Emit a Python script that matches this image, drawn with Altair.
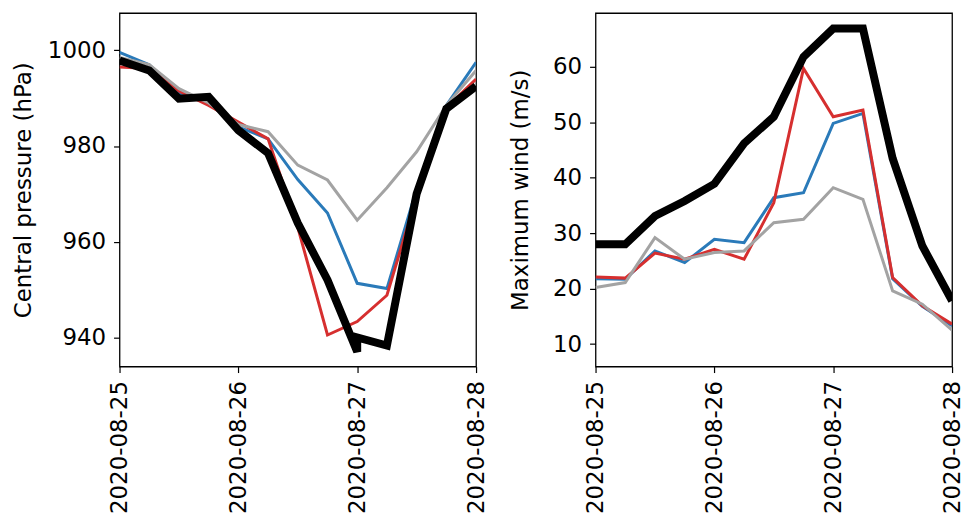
import altair as alt
import pandas as pd

# 6-hourly times, 2020-08-25 00 UTC .. 2020-08-28 00 UTC
TIMES = [
    "2020-08-25T00:00:00", "2020-08-25T06:00:00", "2020-08-25T12:00:00", "2020-08-25T18:00:00",
    "2020-08-26T00:00:00", "2020-08-26T06:00:00", "2020-08-26T12:00:00", "2020-08-26T18:00:00",
    "2020-08-27T00:00:00", "2020-08-27T06:00:00", "2020-08-27T12:00:00", "2020-08-27T18:00:00",
    "2020-08-28T00:00:00",
]
# the black (best-track) series has two entries at 2020-08-27 00
BLACK_TIMES = TIMES[:9] + [TIMES[8]] + TIMES[9:]

PRES_BLUE = [999.6, 997.0, 991.0, 989.0, 984.0, 981.5, 973.0, 966.0, 951.3, 950.2, 971.0, 988.5, 997.5]
PRES_RED = [996.5, 996.2, 991.5, 988.5, 985.0, 981.5, 963.0, 940.5, 943.3, 948.8, 969.5, 988.0, 994.0]
PRES_GRAY = [998.5, 997.0, 992.0, 989.0, 984.5, 983.0, 976.0, 972.9, 964.5, 971.3, 978.8, 988.5, 995.8]
PRES_BLACK = [997.9, 995.8, 989.9, 990.3, 983.3, 978.5, 963.9, 952.0, 937.0, 940.0, 938.3, 970.0, 987.8, 992.5]

WIND_BLUE = [21.8, 21.7, 26.8, 24.7, 28.9, 28.3, 36.4, 37.3, 49.8, 51.6, 21.8, 16.8, 13.3]
WIND_RED = [22.1, 21.9, 26.4, 25.3, 27.1, 25.3, 35.5, 59.7, 51.0, 52.2, 22.0, 16.9, 13.6]
WIND_GRAY = [20.2, 21.1, 29.2, 25.3, 26.5, 26.8, 31.9, 32.5, 38.2, 36.1, 19.6, 17.2, 12.5]
WIND_BLACK = [28.0, 28.0, 33.1, 35.8, 38.9, 46.2, 51.0, 61.8, 66.9, 66.9, 66.9, 43.5, 27.7, 17.8]

DATE_TICKS = [25, 26, 27, 28]
PRES_TICKS = [940, 960, 980, 1000]
WIND_TICKS = [10, 20, 30, 40, 50, 60]

COLORS = {"blue": "#2a7ab9", "red": "#d62f2f", "gray": "#a3a3a3", "black": "#000000"}
WIDTHS = {"blue": 3, "red": 3, "gray": 3, "black": 8}

FS = 23


def frame(times, values):
    return pd.DataFrame({"time": times, "value": values, "idx": list(range(len(values)))})


x_scale = alt.Scale(
    domain=[alt.DateTime(year=2020, month=8, date=25), alt.DateTime(year=2020, month=8, date=28)],
    nice=False,
)
x_axis = alt.Axis(
    title=None,
    values=[alt.DateTime(year=2020, month=8, date=d) for d in DATE_TICKS],
    format="%Y-%m-%d",
    labelAngle=270,
    labelPadding=8,
    labelFlush=False,
    labelOverlap=False,
)


def panel(series, domain, ticks, title, label_pad, title_pad):
    y_scale = alt.Scale(domain=domain, nice=False, zero=False)
    y_axis = alt.Axis(title=title, values=ticks, format="d", labelPadding=label_pad,
                      titlePadding=title_pad)
    layers = []
    for name, times, vals in series:
        layers.append(
            alt.Chart(frame(times, vals))
            .mark_line(color=COLORS[name], strokeWidth=WIDTHS[name], clip=True)
            .encode(
                x=alt.X("time:T", scale=x_scale, axis=x_axis),
                y=alt.Y("value:Q", scale=y_scale, axis=y_axis),
                order="idx:Q",
            )
        )
    return alt.layer(*layers).properties(width=358, height=355)


left = panel(
    [("blue", TIMES, PRES_BLUE), ("red", TIMES, PRES_RED), ("gray", TIMES, PRES_GRAY),
     ("black", BLACK_TIMES, PRES_BLACK)],
    [933.9, 1007.8], PRES_TICKS, "Central pressure (hPa)", 8, 11.5,
)
right = panel(
    [("blue", TIMES, WIND_BLUE), ("red", TIMES, WIND_RED), ("gray", TIMES, WIND_GRAY),
     ("black", BLACK_TIMES, WIND_BLACK)],
    [5.95, 69.7], WIND_TICKS, "Maximum wind (m/s)", 8, 20,
)

chart = (
    alt.hconcat(left, right, spacing=20)
    .properties(padding={"left": 4, "top": 3, "right": 0, "bottom": 0}, background="white")
    .configure(font="DejaVu Sans")
    .configure_view(stroke="black", strokeWidth=1.3)
    .configure_axis(
        grid=False,
        domain=False,
        tickColor="black",
        tickWidth=1.2,
        tickSize=6,
        labelColor="black",
        labelFontSize=FS,
        titleColor="black",
        titleFontSize=FS,
        titleFontWeight="normal",
        labelFont="DejaVu Sans",
        titleFont="DejaVu Sans",
    )
)

chart.save("out.html", embed_options={"renderer": "svg", "actions": False})
